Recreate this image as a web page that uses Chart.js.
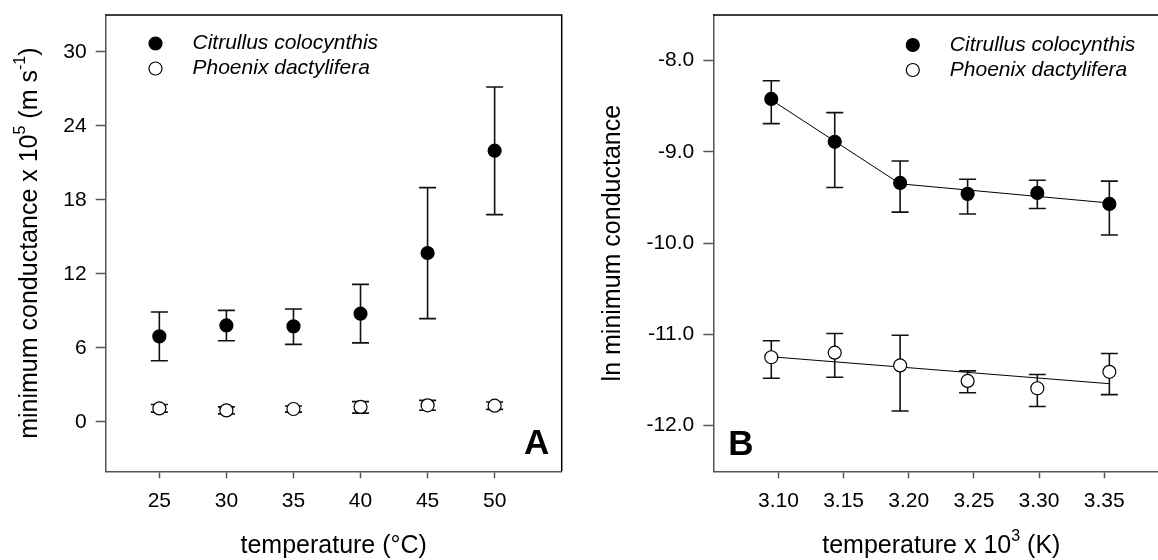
<!DOCTYPE html>
<html>
<head>
<meta charset="utf-8">
<script src="https://cdn.jsdelivr.net/npm/chart.js@4/dist/chart.umd.min.js"></script>
<style>
html,body{margin:0;padding:0;background:#fff;overflow:hidden;width:1158px;height:560px}
#chartA{position:absolute;left:0;top:0}
#chartB{position:absolute;left:580px;top:0}
</style>
</head>
<body>
<canvas id="chartA" width="580" height="560"></canvas>
<canvas id="chartB" width="600" height="560"></canvas>
<script>
// panel A: minimum conductance vs temperature
const tempC = [25, 30, 35, 40, 45, 50];
const citrullusA = [6.94, 7.83, 7.75, 8.78, 13.70, 22.0];
const citrullusA_lo = [4.97, 6.59, 6.29, 6.41, 8.38, 16.81];
const citrullusA_hi = [8.92, 9.05, 9.16, 11.16, 19.0, 27.16];
const phoenixA = [1.10, 0.94, 1.05, 1.22, 1.35, 1.32];
const phoenixA_lo = [0.80, 0.66, 0.80, 0.72, 0.95, 1.02];
const phoenixA_hi = [1.42, 1.22, 1.30, 1.65, 1.75, 1.62];
const ticksAx = [25, 30, 35, 40, 45, 50];
const ticksAy = [0, 6, 12, 18, 24, 30];

// panel B: ln conductance vs 1/T
const invT = [3.0945, 3.1432, 3.1934, 3.2452, 3.2987, 3.3540];
const citrullusB = [-8.42, -8.89, -9.34, -9.46, -9.45, -9.57];
const citrullusB_lo = [-8.69, -9.39, -9.66, -9.68, -9.62, -9.91];
const citrullusB_hi = [-8.22, -8.57, -9.10, -9.30, -9.31, -9.32];
const phoenixB = [-11.25, -11.20, -11.34, -11.51, -11.59, -11.41];
const phoenixB_lo = [-11.48, -11.47, -11.84, -11.64, -11.79, -11.66];
const phoenixB_hi = [-11.07, -10.99, -11.01, -11.40, -11.44, -11.21];
const fitCitrullusX = [3.0945, 3.1934, 3.3540];
const fitCitrullusY = [-8.43, -9.35, -9.56];
const fitPhoenixX = [3.0945, 3.3540];
const fitPhoenixY = [-11.245, -11.54];
const ticksBx = [3.10, 3.15, 3.20, 3.25, 3.30, 3.35];
const ticksBy = [-12, -11, -10, -9, -8];

const FONT = '"Liberation Sans", Arial, sans-serif';
const pts = (xs, ys) => xs.map((v, i) => ({x: v, y: ys[i]}));

const errorBars = {
  id: 'errorBars',
  beforeDatasetsDraw(chart) {
    const {ctx, scales: {x, y}} = chart;
    ctx.save();
    ctx.strokeStyle = '#111';
    ctx.lineWidth = 1.6;
    chart.data.datasets.forEach(ds => {
      if (!ds.errLo) return;
      ds.data.forEach((p, i) => {
        const px = x.getPixelForValue(p.x);
        const y1 = y.getPixelForValue(ds.errLo[i]);
        const y2 = y.getPixelForValue(ds.errHi[i]);
        ctx.beginPath();
        ctx.moveTo(px, y1); ctx.lineTo(px, y2);
        ctx.moveTo(px - 8.5, y1); ctx.lineTo(px + 8.5, y1);
        ctx.moveTo(px - 8.5, y2); ctx.lineTo(px + 8.5, y2);
        ctx.stroke();
      });
    });
    ctx.restore();
  }
};

// text with superscripts, centred on (cx, cy)
function richText(ctx, parts, cx, cy, size, rot) {
  ctx.save();
  ctx.translate(cx, cy);
  if (rot) ctx.rotate(rot);
  ctx.textBaseline = 'middle';
  ctx.fillStyle = '#000';
  const supSize = Math.round(size * 0.64);
  let w = 0;
  parts.forEach(p => {
    ctx.font = (p.sup ? supSize : size) + 'px ' + FONT;
    p.w = ctx.measureText(p.t).width;
    w += p.w;
  });
  let xx = -w / 2;
  parts.forEach(p => {
    ctx.font = (p.sup ? supSize : size) + 'px ' + FONT;
    ctx.fillText(p.t, xx, p.sup ? -size * 0.38 : 0);
    xx += p.w;
  });
  ctx.restore();
}

const deco = {
  id: 'deco',
  afterDatasetsDraw(chart, args, o) {
    const {ctx, chartArea: a} = chart;
    ctx.save();
    // top and right frame
    ctx.strokeStyle = '#000';
    ctx.lineWidth = 1.5;
    ctx.beginPath();
    ctx.moveTo(a.left, a.top);
    ctx.lineTo(a.right, a.top);
    ctx.lineTo(a.right, a.bottom);
    ctx.stroke();
    // legend
    o.legend.forEach((l, i) => {
      const yy = o.legendY + i * 25;
      ctx.beginPath();
      ctx.arc(o.legendX, yy, 6.5, 0, Math.PI * 2);
      ctx.fillStyle = l.fill;
      ctx.fill();
      ctx.lineWidth = 1.2;
      ctx.stroke();
      ctx.fillStyle = '#000';
      ctx.font = 'italic 21px ' + FONT;
      ctx.textBaseline = 'middle';
      ctx.textAlign = 'left';
      ctx.fillText(l.text, o.legendX + 37, yy);
    });
    // panel letter
    ctx.font = 'bold 35px ' + FONT;
    ctx.textAlign = 'center';
    ctx.textBaseline = 'middle';
    ctx.fillStyle = '#000';
    ctx.fillText(o.letter, o.letterX, o.letterY);
    ctx.restore();
    // axis titles
    const cx = (a.left + a.right) / 2, cy = (a.top + a.bottom) / 2;
    richText(ctx, o.xTitle, cx, 546.5, 25, 0);
    richText(ctx, o.yTitle, o.yTitleX, cy, 25, -Math.PI / 2);
  }
};

function axis(min, max, tickVals, fmt, isY, fixedSize) {
  return {
    type: 'linear',
    min: min, max: max,
    afterBuildTicks: s => { s.ticks = tickVals.map(v => ({value: v})); },
    afterFit: s => {
      if (isY) { s.width = fixedSize; s.paddingTop = 0; s.paddingBottom = 0; }
      else { s.height = fixedSize; s.paddingLeft = 0; s.paddingRight = 0; }
    },
    border: {display: true, color: '#555', width: 1.5},
    grid: {display: true, drawOnChartArea: false, drawTicks: true,
           tickLength: isY ? 10 : 7, tickColor: '#555', tickWidth: 1.5},
    ticks: {color: '#000', font: {size: 21, family: FONT}, padding: isY ? 9 : 10,
            autoSkip: false, maxRotation: 0, callback: fmt}
  };
}

const legendItems = [
  {text: 'Citrullus colocynthis', fill: '#000'},
  {text: 'Phoenix dactylifera', fill: '#fff'}
];

function pointSet(data, lo, hi, fill) {
  return {data: data, errLo: lo, errHi: hi, pointRadius: 6.5, pointHoverRadius: 6.5,
          pointBackgroundColor: fill, pointBorderColor: '#000', pointBorderWidth: 1.2,
          showLine: false};
}

new Chart(document.getElementById('chartA'), {
  type: 'scatter',
  data: {
    datasets: [
      pointSet(pts(tempC, citrullusA), citrullusA_lo, citrullusA_hi, '#000'),
      pointSet(pts(tempC, phoenixA), phoenixA_lo, phoenixA_hi, '#fff')
    ]
  },
  options: {
    responsive: false, animation: false, events: [],
    layout: {padding: {top: 15, right: 18.3, left: 0, bottom: 0}},
    plugins: {
      legend: {display: false}, tooltip: {enabled: false},
      deco: {
        legend: legendItems, legendX: 155.5, legendY: 43.5,
        letter: 'A', letterX: 536.7, letterY: 444.5,
        xTitle: [{t: 'temperature (°C)'}],
        yTitle: [{t: 'minimum conductance x 10'}, {t: '5', sup: true}, {t: ' (m s'}, {t: '-1', sup: true}, {t: ')'}],
        yTitleX: 30
      }
    },
    scales: {
      x: axis(21, 55, ticksAx, v => String(v), false, 88.7),
      y: axis(-4, 33, ticksAy, v => String(v), true, 105.7)
    }
  },
  plugins: [errorBars, deco]
});

new Chart(document.getElementById('chartB'), {
  type: 'scatter',
  data: {
    datasets: [
      pointSet(pts(invT, citrullusB), citrullusB_lo, citrullusB_hi, '#000'),
      pointSet(pts(invT, phoenixB), phoenixB_lo, phoenixB_hi, '#fff'),
      {data: pts(fitCitrullusX, fitCitrullusY), showLine: true, pointRadius: 0, borderColor: '#000', borderWidth: 1},
      {data: pts(fitPhoenixX, fitPhoenixY), showLine: true, pointRadius: 0, borderColor: '#000', borderWidth: 1}
    ]
  },
  options: {
    responsive: false, animation: false, events: [],
    layout: {padding: {top: 15, right: 10.7, left: 0, bottom: 0}},
    plugins: {
      legend: {display: false}, tooltip: {enabled: false},
      deco: {
        legend: legendItems, legendX: 332.8, legendY: 45,
        letter: 'B', letterX: 161, letterY: 445,
        xTitle: [{t: 'temperature x 10'}, {t: '3', sup: true}, {t: ' (K)'}],
        yTitle: [{t: 'ln minimum conductance'}],
        yTitleX: 33
      }
    },
    scales: {
      x: axis(3.05, 3.40, ticksBx, v => v.toFixed(2), false, 88.7),
      y: axis(-12.5, -7.5, ticksBy, v => v.toFixed(1), true, 133.3)
    }
  },
  plugins: [errorBars, deco]
});
</script>
</body>
</html>
